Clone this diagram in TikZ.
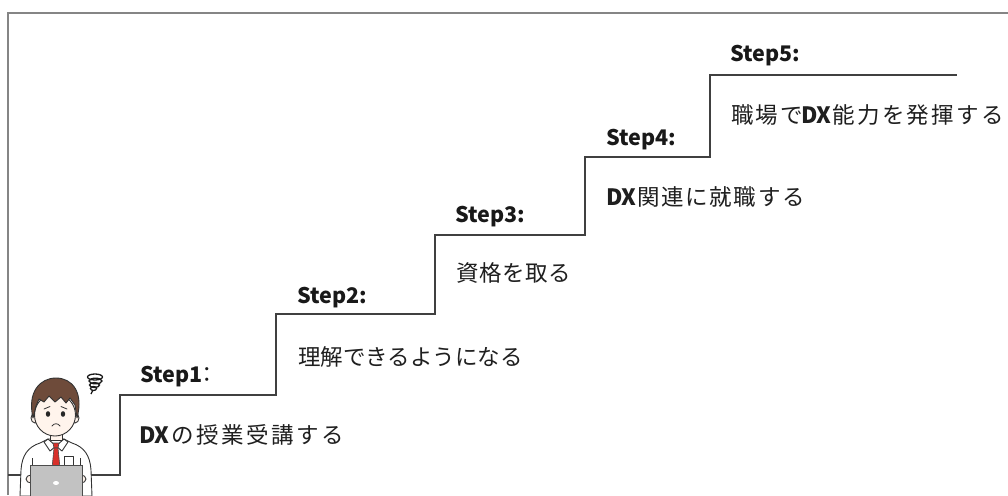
\documentclass[tikz,border=0pt]{standalone}
\usepackage{fontspec}
\setmainfont{Noto Sans CJK JP}
\definecolor{hairbrown}{HTML}{6E4B3A}
\definecolor{skin}{HTML}{FFF4EC}
\definecolor{tiered}{HTML}{D8302A}
\definecolor{laptopgray}{HTML}{C2C2C2}
\newcommand{\track}[1]{\addfontfeature{LetterSpace=#1}}
\begin{document}
\begin{tikzpicture}[x=1pt,y=-1pt,
  frameline/.style={draw=black!48,line width=1.5pt},
  stairline/.style={draw=black!75,line width=1.3pt},
  steplabel/.style={anchor=base west,inner sep=0pt,font=\fontsize{21.5}{25}\selectfont\bfseries,text=black!90},
  steptext/.style={anchor=base west,inner sep=0pt,font=\fontsize{22.5}{27}\selectfont,text=black!88},
  outline/.style={draw=black!80,line width=0.9pt,line join=round}]

\useasboundingbox (0,0) rectangle (1008,495);
\fill[white] (0,0) rectangle (1008,495);

% frame
\draw[frameline] (8,495) -- (8,13) -- (1008,13);

% staircase
\coordinate (s0) at (8,475);
\coordinate (s1) at (120,475);
\coordinate (s2) at (120,395);
\coordinate (s3) at (276,395);
\coordinate (s4) at (276,314);
\coordinate (s5) at (435,314);
\coordinate (s6) at (435,235);
\coordinate (s7) at (585,235);
\coordinate (s8) at (585,157);
\coordinate (s9) at (710,157);
\coordinate (s10) at (710,75);
\coordinate (s11) at (957,75);
\draw[stairline] (s0) -- (s1) -- (s2) -- (s3) -- (s4) -- (s5) -- (s6) -- (s7) -- (s8) -- (s9) -- (s10) -- (s11);

% step labels
\node[steplabel] (l1) at (140,382) {Step1\kern-6pt{\mdseries ：}};
\node[steplabel] (l2) at (297,303) {Step2:};
\node[steplabel] (l3) at (455,222) {Step3:};
\node[steplabel] (l4) at (606,145) {Step4:};
\node[steplabel] (l5) at (730,62) {Step5:};

% step descriptions
\node[steptext] (t1) at (139,443) {\textbf{DX}\kern2pt{\track{11}の授業受講する}};
\node[steptext] (t2) at (298,365) {理解できるようになる};
\node[steptext] (t3) at (456,281) {{\track{2}資格を取る}};
\node[steptext] (t4) at (606,205) {\textbf{DX}\kern1pt{\track{7}関連に就職する}};
\node[steptext] (t5) at (731,123) {{\track{10}職場で}\kern-2pt\textbf{DX}\kern1pt{\track{10}能力を発揮する}};

% --- student at the laptop ---
% body
\draw[outline,fill=white] (20,496) -- (21,470) .. controls (22,455) and (28,447) .. (40,443)
  -- (48,439) -- (64,439) -- (72,443) .. controls (84,447) and (90,455) .. (91,470) -- (92,496) -- cycle;
\draw[outline] (32,458) -- (32,476);
\draw[outline] (80,458) -- (80,476);
% neck
\draw[outline,fill=skin] (50,430) -- (50,440) -- (62,440) -- (62,430);
% collar
\draw[outline,fill=white] (48,439) -- (56,446) -- (50,451) -- (44,442) -- cycle;
\draw[outline,fill=white] (64,439) -- (56,446) -- (62,451) -- (68,442) -- cycle;
% tie
\draw[draw=black!70,line width=0.6pt,fill=tiered] (53,443) -- (59,443) -- (58,448) -- (54,448) -- cycle;
\draw[draw=black!70,line width=0.6pt,fill=tiered] (54,448) -- (58,448) -- (60,468) -- (56,472) -- (52,468) -- cycle;
% pocket
\draw[outline] (64,456) rectangle (73,468);
% ears
\draw[outline,fill=skin] (35,418) ellipse (4 and 5);
\draw[outline,fill=skin] (75,418) ellipse (4 and 5);
% face
\draw[outline,fill=skin] (55,415) ellipse (20.5 and 21);
% hair
\draw[outline,fill=hairbrown] (33,418) .. controls (27,392) and (40,378) .. (56,378)
  .. controls (72,378) and (84,392) .. (77,418) -- (75,405) -- (70,398) -- (66,403) -- (61,397)
  -- (55,402) -- (49,396) -- (44,402) -- (39,399) -- (36,406) -- cycle;
% eyes, brows, mouth
\fill[black!85] (48,414) ellipse (2.2 and 2.8);
\fill[black!85] (63,414) ellipse (2.2 and 2.8);
\draw[black!80,line width=0.8pt,line cap=round] (44,409) -- (50,406.5);
\draw[black!80,line width=0.8pt,line cap=round] (61,406.5) -- (67,409);
\draw[black!80,line width=0.8pt,line cap=round] (52,426) .. controls (54,423) and (58,423) .. (60,426);
% hands
\draw[outline,fill=skin] (31,479) ellipse (5 and 4);
\draw[outline,fill=skin] (81,479) ellipse (5 and 4);
% laptop
\draw[draw=black!70,line width=0.9pt,fill=laptopgray] (30,465) rectangle (82,496);
\fill[white] (56,483) ellipse (3 and 2);
% worry scribble
\begin{scope}[shift={(95,383)},black!90,line width=1.3pt]
  \draw (0,-6) ellipse (7.5 and 3);
  \draw (0.5,-2) ellipse (6.5 and 2.8);
  \draw (-0.5,2) ellipse (5 and 2.5);
  \draw (-1.5,5.5) ellipse (3 and 2);
  \draw (-2,7) -- (-4,11);
\end{scope}
\end{tikzpicture}
\end{document}
